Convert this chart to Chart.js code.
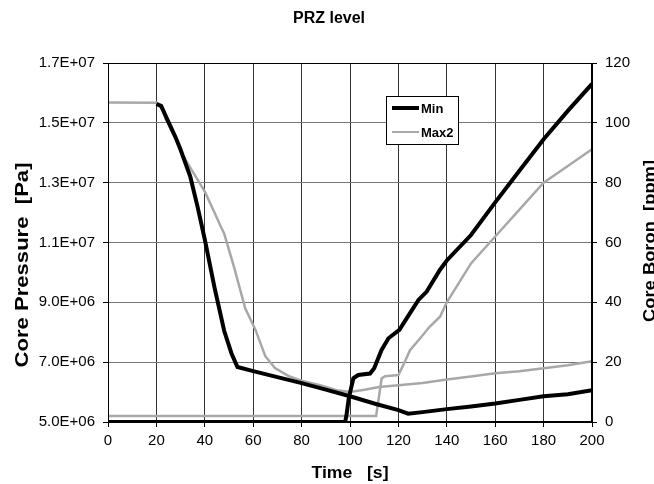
<!DOCTYPE html>
<html><head><meta charset="utf-8">
<script src="https://cdn.jsdelivr.net/npm/chart.js@4.4.0/dist/chart.umd.min.js"></script>
<style>html,body{margin:0;padding:0;background:#fff;}canvas{display:block;}</style>
</head><body>
<canvas id="c" width="654" height="484"></canvas>
<script>
// ---- data ----
const chartTitle = 'PRZ level';
const xTitle = 'Time   [s]';
const yLeftTitle = 'Core Pressure  [Pa]';
const yRightTitle = 'Core Boron  [ppm]';
const legendLabels = ['Min', 'Max2'];
const pressureTickLabels = ['5.0E+06','7.0E+06','9.0E+06','1.1E+07','1.3E+07','1.5E+07','1.7E+07'];
const boronTickLabels = ['0','20','40','60','80','100','120'];
const timeTickLabels = ['0','20','40','60','80','100','120','140','160','180','200'];

const minPressureTime = [20, 22, 24, 28, 30, 34, 37, 40, 44, 48, 51, 53.5, 60, 70, 80, 90, 100, 110, 120, 124, 130, 140, 150, 160, 170, 180, 190, 200];
const minPressure = [1.563e7, 1.556e7, 1.52e7, 1.45e7, 1.41e7, 1.32e7, 1.22e7, 1.11e7, 9.5e6, 8.05e6, 7.3e6, 6.84e6, 6.7e6, 6.5e6, 6.3e6, 6.08e6, 5.86e6, 5.62e6, 5.4e6, 5.28e6, 5.33e6, 5.43e6, 5.52e6, 5.62e6, 5.74e6, 5.86e6, 5.93e6, 6.06e6];

const maxPressureTime = [0, 20, 22, 24, 28, 31, 34, 37, 40, 44, 46.5, 48, 52, 56.7, 61, 65, 69, 75, 80, 87.6, 94.5, 100, 106, 112, 120, 130, 140, 150, 160, 170, 180, 190, 200];
const maxPressure = [1.568e7, 1.567e7, 1.56e7, 1.51e7, 1.45e7, 1.39e7, 1.35e7, 1.31e7, 1.27e7, 1.2e7, 1.155e7, 1.13e7, 1.02e7, 8.8e6, 8.07e6, 7.2e6, 6.8e6, 6.52e6, 6.38e6, 6.23e6, 6.06e6, 6.0e6, 6.08e6, 6.17e6, 6.23e6, 6.3e6, 6.42e6, 6.52e6, 6.63e6, 6.7e6, 6.8e6, 6.9e6, 7.03e6];

const minBoronTime = [0, 98, 98.5, 99.5, 101.4, 103.4, 108.3, 110, 113, 115.9, 120.4, 124.8, 128.3, 131.7, 137.2, 140, 150, 160, 170, 180, 190, 200];
const minBoron = [0, 0, 2, 8, 14.6, 15.7, 16.2, 18, 24, 28, 30.8, 36.4, 40.8, 43.6, 50.9, 54, 62.5, 73.4, 84, 94.5, 104, 113];

const maxBoronTime = [0, 110.8, 113.1, 114.5, 120, 122, 124.8, 129, 133, 137.2, 140, 150, 160, 170, 180, 190, 200];
const maxBoron = [2, 2, 14.6, 15.3, 15.7, 19, 24, 28, 31.9, 35.2, 40, 53, 62, 71, 80, 85.6, 91.2];

// ---- styles ----
const FONT = '"Liberation Sans", Arial, sans-serif';
const BLACK = '#000000';
const GRAY = '#a8a8a8';

function pts(xs, ys) { return xs.map((x, i) => ({ x: x, y: ys[i] })); }

const overlay = {
  id: 'overlay',
  afterDraw(chart) {
    const ctx = chart.ctx, ca = chart.chartArea;
    ctx.save();
    // plot frame
    ctx.strokeStyle = '#000'; ctx.lineWidth = 1;
    ctx.strokeRect(Math.round(ca.left) + 0.5, Math.round(ca.top) + 0.5,
                   Math.round(ca.right) - Math.round(ca.left) - 1, Math.round(ca.bottom) - Math.round(ca.top) - 1);
    ctx.fillStyle = '#000';
    ctx.textBaseline = 'alphabetic';
    ctx.textAlign = 'center';
    // chart title
    ctx.font = 'bold 16px ' + FONT;
    ctx.fillText(chartTitle, 329, 23);
    function stretched(text, cx, cy, rot, len, font) {
      ctx.save();
      ctx.translate(cx, cy);
      ctx.rotate(rot);
      ctx.font = font;
      const w = ctx.measureText(text).width;
      ctx.scale(len / w, 1);
      ctx.fillText(text, 0, 0);
      ctx.restore();
    }
    stretched(xTitle, 350, 478, 0, 77, 'bold 16px ' + FONT);
    stretched(yLeftTitle, 28, 265, -Math.PI / 2, 205, 'bold 18px ' + FONT);
    stretched(yRightTitle, 655, 241, -Math.PI / 2, 162, 'bold 17px ' + FONT);
    // legend
    const lx = 386, ly = 96, lw = 72, lh = 48;
    ctx.fillStyle = '#fff';
    ctx.fillRect(lx, ly, lw, lh);
    ctx.strokeStyle = '#000'; ctx.lineWidth = 1;
    ctx.strokeRect(lx + 0.5, ly + 0.5, lw, lh);
    ctx.lineCap = 'butt';
    ctx.beginPath(); ctx.strokeStyle = BLACK; ctx.lineWidth = 4;
    ctx.moveTo(392, 108); ctx.lineTo(419, 108); ctx.stroke();
    ctx.beginPath(); ctx.strokeStyle = GRAY; ctx.lineWidth = 2;
    ctx.moveTo(392, 132); ctx.lineTo(419, 132); ctx.stroke();
    ctx.fillStyle = '#000';
    ctx.font = 'bold 13px ' + FONT;
    ctx.textAlign = 'left'; ctx.textBaseline = 'middle';
    ctx.fillText(legendLabels[0], 421, 109);
    ctx.fillText(legendLabels[1], 421, 133);
    ctx.restore();
  }
};

const common = { pointRadius: 0, tension: 0, fill: false, clip: 0 };

new Chart(document.getElementById('c'), {
  type: 'line',
  data: {
    datasets: [
      Object.assign({ label: legendLabels[0] + ' P', data: pts(minPressureTime, minPressure), borderColor: BLACK, borderWidth: 4, yAxisID: 'y', order: 0 }, common),
      Object.assign({ label: legendLabels[0] + ' B', data: pts(minBoronTime, minBoron), borderColor: BLACK, borderWidth: 4, yAxisID: 'y2', order: 0 }, common),
      Object.assign({ label: legendLabels[1] + ' P', data: pts(maxPressureTime, maxPressure), borderColor: GRAY, borderWidth: 2.5, yAxisID: 'y', order: 1 }, common),
      Object.assign({ label: legendLabels[1] + ' B', data: pts(maxBoronTime, maxBoron), borderColor: GRAY, borderWidth: 2.5, yAxisID: 'y2', order: 1 }, common)
    ]
  },
  options: {
    responsive: false,
    animation: false,
    layout: { padding: { top: 63, left: 0, right: 0, bottom: 0 } },
    plugins: { legend: { display: false }, title: { display: false }, tooltip: { enabled: false } },
    scales: {
      x: {
        type: 'linear', min: 0, max: 200,
        ticks: { stepSize: 20, color: '#000', font: { family: FONT, size: 15 }, padding: 5, maxRotation: 0,
                 callback: (v) => timeTickLabels[Math.round(v / 20)] },
        grid: { color: '#333', tickColor: '#000', tickLength: 5, lineWidth: 1 },
        border: { color: '#000', width: 1 },
        afterFit: (s) => { s.height = 62; }
      },
      y: {
        position: 'left', min: 5e6, max: 1.7e7,
        ticks: { stepSize: 2e6, color: '#000', font: { family: FONT, size: 15 }, padding: 8,
                 callback: (v) => pressureTickLabels[Math.round((v - 5e6) / 2e6)] },
        grid: { color: '#777', tickColor: '#000', tickLength: 5, lineWidth: 1 },
        border: { color: '#000', width: 1 },
        afterFit: (s) => { s.width = 108; }
      },
      y2: {
        position: 'right', min: 0, max: 120,
        ticks: { stepSize: 20, color: '#000', font: { family: FONT, size: 15 }, padding: 8,
                 callback: (v) => boronTickLabels[Math.round(v / 20)] },
        grid: { drawOnChartArea: false, tickColor: '#000', tickLength: 5 },
        border: { color: '#000', width: 1 },
        afterFit: (s) => { s.width = 62; }
      }
    }
  },
  plugins: [overlay]
});
</script>
</body></html>
